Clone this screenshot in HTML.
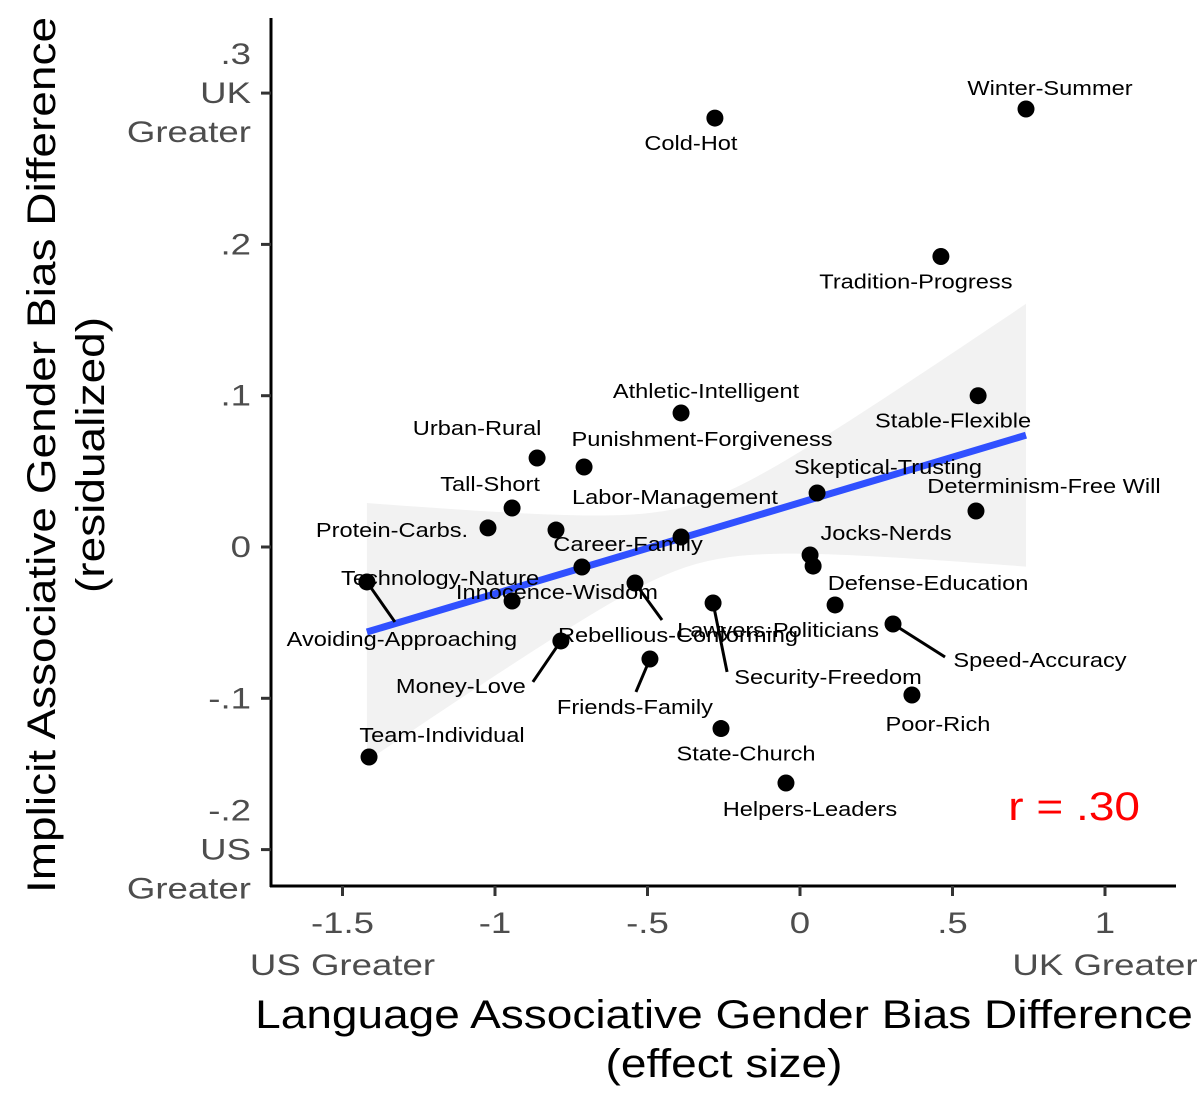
<!DOCTYPE html>
<html><head><meta charset="utf-8"><style>
body{margin:0;background:#fff;}
svg text{font-family:"Liberation Sans",Arial,sans-serif;}
</style></head><body>
<svg id="chart" width="1200" height="1110" xmlns="http://www.w3.org/2000/svg">
<g id="band"></g>
<g id="fit"></g>
<g id="segs"></g>
<g id="pts"></g>
<g id="lbls"></g>
<g id="axes"></g>
<text class="w15" x="1140" y="820" font-size="40" fill="#ff0000" text-anchor="end">r = .30</text>
<text class="w15" x="724" y="1028" font-size="40" text-anchor="middle">Language Associative Gender Bias Difference</text>
<text class="w15" x="724" y="1077" font-size="40" text-anchor="middle">(effect size)</text>
<g transform="translate(55,455) rotate(-90)">
<text class="w15" x="0" y="0" font-size="40" text-anchor="middle">Implicit Associative Gender Bias Difference</text>
<text class="w15" x="0" y="49" font-size="40" text-anchor="middle">(residualized)</text>
</g>
</svg>
<script>
const names=["Winter-Summer","Cold-Hot","Tradition-Progress","Stable-Flexible","Athletic-Intelligent","Urban-Rural","Punishment-Forgiveness","Tall-Short","Skeptical-Trusting","Determinism-Free Will","Protein-Carbs.","Labor-Management","Career-Family","Jocks-Nerds","Lawyers-Politicians","Defense-Education","Innocence-Wisdom","Technology-Nature","Avoiding-Approaching","Rebellious-Conforming","Security-Freedom","Speed-Accuracy","Money-Love","Friends-Family","Poor-Rich","State-Church","Team-Individual","Helpers-Leaders"];
const xVals=[0.741,-0.279,0.462,0.584,-0.390,-0.862,-0.708,-0.944,0.056,0.577,-1.023,-0.800,-0.390,0.033,0.043,0.115,-0.715,-0.944,-1.420,-0.541,-0.285,0.305,-0.784,-0.492,0.367,-0.259,-1.413,-0.046];
const yVals=[0.2895,0.2835,0.192,0.100,0.0886,0.0588,0.0529,0.0258,0.0357,0.0238,0.0126,0.0112,0.0066,-0.0053,-0.0126,-0.0383,-0.0132,-0.0357,-0.0231,-0.0238,-0.037,-0.0509,-0.0621,-0.074,-0.0978,-0.120,-0.1388,-0.156];
// label offsets (pixels, relative to point)
const labelDx=[24,-24,-25,-25,25,-60,118,-22,71,68,-96,119,-53,76,-35,93,-25,-72,35,43,115,147,-100,-15,26,25,73,24];
const labelDy=[-21,25,25,25,-22,-30,-28,-24,-26,-25,2,-33,7,-22,64,-22,25,-23,57,52,74,36,45,48,29,25,-22,26];
// leader segment ends (pixels, relative to point); 0,0 = none
const segDx=[0,0,0,0,0,0,0,0,0,0,0,0,0,0,0,0,0,0,28,27,14,52,-28,-14,0,0,0,0];
const segDy=[0,0,0,0,0,0,0,0,0,0,0,0,0,0,0,0,0,0,40,37,69,33,41,33,0,0,0,0];
const xTicks=[-1.5,-1,-0.5,0,0.5,1];
const xTickLabels=["-1.5","-1","-.5","0",".5","1"];
const yTicks=[0.3,0.2,0.1,0,-0.1,-0.2];
const yTickLabels=[".3",".2",".1","0","-.1","-.2"];
const fitRange=[-1.420,0.741];
const fitCoef=[-0.0562+0.0602*1.420,0.0602];
const bandParams=[-0.35,0.0004,0.006];

const X=v=>800+v*305, Y=v=>547-v*1513;
const NS="http://www.w3.org/2000/svg";
function mk(t,p,at){const e=document.createElementNS(NS,t);for(const k in at)e.setAttribute(k,at[k]);p.appendChild(e);return e;}
const fitY=x=>fitCoef[0]+fitCoef[1]*x;
const hw=x=>Math.sqrt(bandParams[1]+bandParams[2]*(x-bandParams[0])**2);
let up=[],lo=[];
for(let i=0;i<=60;i++){const x=fitRange[0]+(fitRange[1]-fitRange[0])*i/60;up.push(X(x)+","+Y(fitY(x)+hw(x)));lo.unshift(X(x)+","+Y(fitY(x)-hw(x)));}
const band=mk("polygon",document.getElementById("band"),{points:up.concat(lo).join(" "),fill:"#f2f2f2"});


const fl=mk("line",document.getElementById("fit"),{x1:X(fitRange[0]),y1:Y(fitY(fitRange[0])),x2:X(fitRange[1]),y2:Y(fitY(fitRange[1])),stroke:"#3050ff","stroke-width":7});


const gP=document.getElementById("pts"),gL=document.getElementById("lbls"),gS=document.getElementById("segs");
names.forEach((n,i)=>{
 const px=X(xVals[i]),py=Y(yVals[i]);
 if(segDx[i]||segDy[i]){
  const s=mk("line",gS,{x1:px,y1:py,x2:px+segDx[i],y2:py+segDy[i],stroke:"#000","stroke-width":3});
  
  
 }
 const c=mk("circle",gP,{cx:px,cy:py,r:8.5,fill:"#000"});
 
 
 const t=mk("text",gL,{x:px+labelDx[i],y:py+labelDy[i]+7,"font-size":20,"text-anchor":"middle",fill:"#000","class":"w18"});
 t.textContent=n;
 
 
});
const gA=document.getElementById("axes");
const ya=mk("line",gA,{x1:271,y1:18,x2:271,y2:887,stroke:"#000","stroke-width":3});


const xa=mk("line",gA,{x1:270,y1:886,x2:1176,y2:886,stroke:"#000","stroke-width":3});


xTicks.forEach((v,i)=>{
 const tk=mk("line",gA,{x1:X(v),y1:886,x2:X(v),y2:896,stroke:"#333","stroke-width":3});
 
 
 const t=mk("text",gA,{x:X(v),y:933,"font-size":30,"text-anchor":"middle",fill:"#4d4d4d","class":"w22"});
 t.textContent=xTickLabels[i];
 
 
});
yTicks.forEach((v,i)=>{
 const tk=mk("line",gA,{x1:261,y1:Y(v),x2:271,y2:Y(v),stroke:"#333","stroke-width":3});
 
 
 const lines=(i==0)?[yTickLabels[i],"UK","Greater"]:(i==yTicks.length-1)?[yTickLabels[i],"US","Greater"]:[yTickLabels[i]];
 const off=lines.length==3?-39:0;
 lines.forEach((s,j)=>{
  const t=mk("text",gA,{x:251,y:Y(v)+off+j*39+10,"font-size":30,"text-anchor":"end",fill:"#4d4d4d","class":"w22"});
  t.textContent=s;
  
  
 });
});
const us=mk("text",gA,{x:X(-1.5),y:975,"font-size":30,"text-anchor":"middle",fill:"#4d4d4d","class":"w22"});
us.textContent="US Greater";


const uk=mk("text",gA,{x:X(1),y:975,"font-size":30,"text-anchor":"middle",fill:"#4d4d4d","class":"w22"});
uk.textContent="UK Greater";


// widen glyphs to match reference font metrics
[["w15",1.15],["w18",1.18],["w22",1.22]].forEach(([c,f])=>{
 document.querySelectorAll("text."+c).forEach(t=>{
  const L=t.getComputedTextLength();
  t.setAttribute("textLength",L*f);
  t.setAttribute("lengthAdjust","spacingAndGlyphs");
 });
});
</script>
</body></html>
